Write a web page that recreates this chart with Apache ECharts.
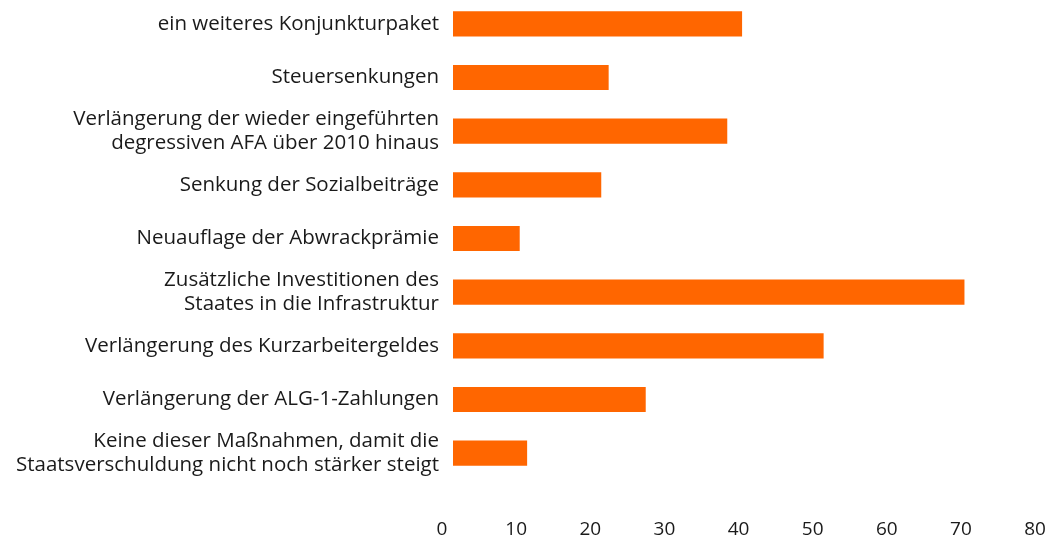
<!DOCTYPE html>
<html>
<head>
<meta charset="utf-8">
<script src="https://cdn.jsdelivr.net/npm/echarts@6/dist/echarts.min.js"></script>
<style>
html,body{margin:0;padding:0;background:#fff;}
#chart{width:1051px;height:538px;}
</style>
</head>
<body>
<div id="chart"></div>
<script>
const categories = [
  "ein weiteres Konjunkturpaket",
  "Steuersenkungen",
  "Verlängerung der wieder eingeführten\ndegressiven AFA über 2010 hinaus",
  "Senkung der Sozialbeiträge",
  "Neuauflage der Abwrackprämie",
  "Zusätzliche Investitionen des\nStaates in die Infrastruktur",
  "Verlängerung des Kurzarbeitergeldes",
  "Verlängerung der ALG-1-Zahlungen",
  "Keine dieser Maßnahmen, damit die\nStaatsverschuldung nicht noch stärker steigt"
];
const values = [39, 21, 37, 20, 9, 69, 50, 26, 10];
const axisMin = 0;
const axisMax = 80;
const axisStep = 10;

const chart = echarts.init(document.getElementById('chart'));
chart.setOption({
  animation: false,
  backgroundColor: '#ffffff',
  textStyle: { fontFamily: '"Open Sans", "Noto Sans", sans-serif' },
  grid: { left: 453, right: 5, top: -3, bottom: 58, containLabel: false, outerBoundsMode: 'none' },
  xAxis: {
    type: 'value',
    min: axisMin,
    max: axisMax,
    interval: axisStep,
    axisLine: { show: false },
    axisTick: { show: false },
    splitLine: { show: false },
    axisLabel: {
      margin: 40,
      color: '#1a1a1a',
      fontSize: 19,
      fontFamily: '"Open Sans", "Noto Sans", sans-serif',
      padding: [0, 22, 0, 0]
    }
  },
  yAxis: {
    type: 'category',
    data: categories,
    inverse: true,
    axisLine: { show: false },
    axisTick: { show: false },
    splitLine: { show: false },
    axisLabel: {
      margin: 14,
      color: '#1a1a1a',
      fontSize: 20.5,
      lineHeight: 24,
      align: 'right',
      padding: [3, 0, 0, 0],
      fontFamily: '"Open Sans", "Noto Sans", sans-serif'
    }
  },
  series: [{
    type: 'bar',
    data: values,
    barCategoryGap: '53%',
    itemStyle: { color: '#FF6600' }
  }]
});
</script>
</body>
</html>
